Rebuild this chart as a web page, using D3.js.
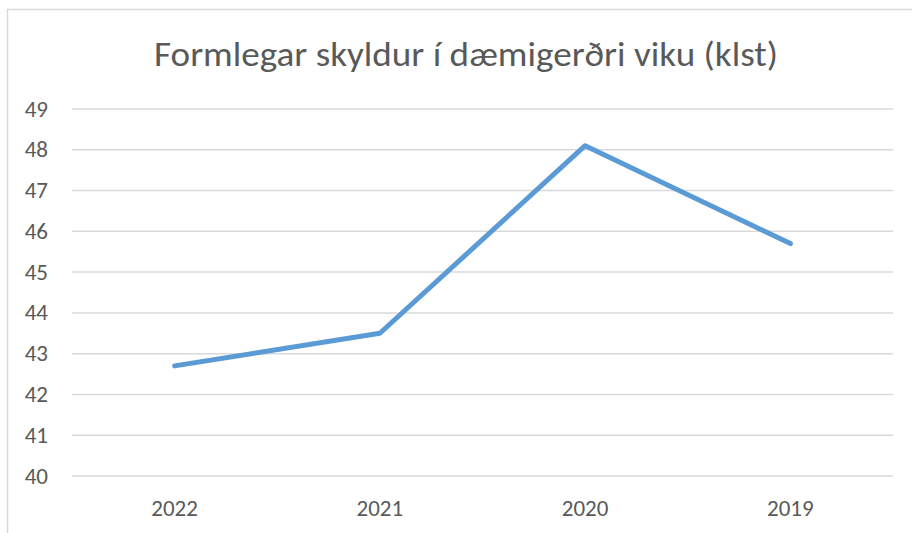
<!DOCTYPE html>
<html>
<head>
<meta charset="utf-8">
<script src="https://cdn.jsdelivr.net/npm/d3@7"></script>
<style>
  html, body { margin: 0; padding: 0; background: #fff; }
  svg { display: block; }
  text { font-family: Carlito, Calibri, "Open Sans", sans-serif; fill: #595959; }
</style>
</head>
<body>
<svg id="chart" width="912" height="533"></svg>
<script>
const years = ["2022", "2021", "2020", "2019"];
const hours = [42.7, 43.5, 48.1, 45.7];
const yTicks = [40, 41, 42, 43, 44, 45, 46, 47, 48, 49];
const chartTitle = "Formlegar skyldur í dæmigerðri viku (klst)";

const svg = d3.select("#chart");
const width = 912;
const height = 533;
const margin = { top: 109, right: 19, bottom: 57, left: 72 };

// chart frame (cut off at right and bottom in the source image)
svg.append("path")
  .attr("d", `M7.5,${height} V9.5 H${width}`)
  .attr("fill", "none")
  .attr("stroke", "#d9d9d9")
  .attr("stroke-width", 1.5);

svg.append("text")
  .attr("x", 466)
  .attr("y", 66)
  .attr("text-anchor", "middle")
  .attr("font-size", 35)
  .attr("font-weight", 300)
  .attr("textLength", 624)
  .attr("lengthAdjust", "spacingAndGlyphs")
  .text(chartTitle);

const x = d3.scaleBand()
  .domain(years)
  .range([margin.left, width - margin.right]);

const y = d3.scaleLinear()
  .domain([40, 49])
  .range([height - margin.bottom, margin.top]);

svg.append("g")
  .selectAll("line")
  .data(yTicks)
  .join("line")
  .attr("x1", margin.left)
  .attr("x2", width - margin.right)
  .attr("y1", (d) => y(d))
  .attr("y2", (d) => y(d))
  .attr("stroke", "#d9d9d9")
  .attr("stroke-width", 1.5);

svg.append("g")
  .selectAll("text")
  .data(yTicks)
  .join("text")
  .attr("x", 48)
  .attr("y", (d) => y(d) + 7.5)
  .attr("text-anchor", "end")
  .attr("font-size", 23)
  .text((d) => d);

svg.append("g")
  .selectAll("text")
  .data(years)
  .join("text")
  .attr("x", (d) => x(d) + x.bandwidth() / 2)
  .attr("y", 516)
  .attr("text-anchor", "middle")
  .attr("font-size", 23)
  .text((d) => d);

const line = d3.line()
  .x((d, i) => x(years[i]) + x.bandwidth() / 2)
  .y((d) => y(d));

svg.append("path")
  .datum(hours)
  .attr("d", line)
  .attr("fill", "none")
  .attr("stroke", "#5b9bd5")
  .attr("stroke-width", 5)
  .attr("stroke-linecap", "round")
  .attr("stroke-linejoin", "round");
</script>
</body>
</html>
